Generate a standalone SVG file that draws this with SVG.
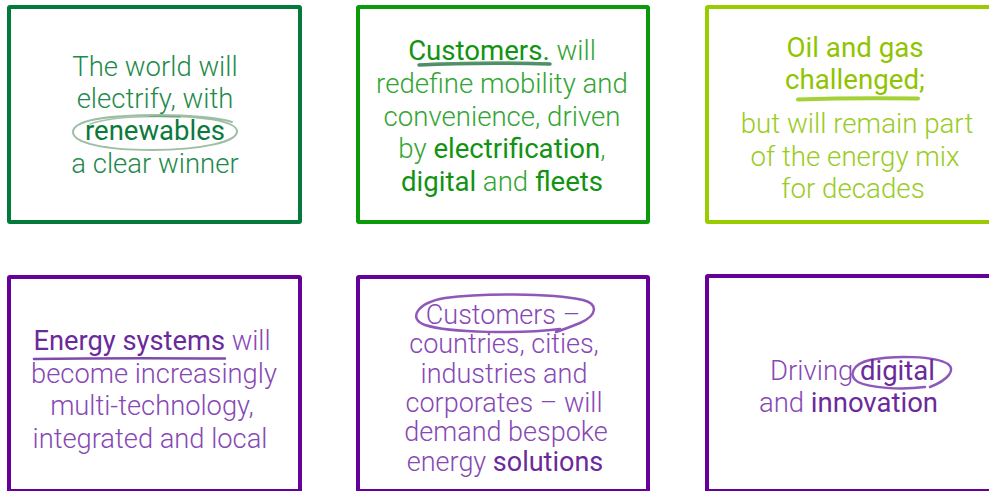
<svg xmlns="http://www.w3.org/2000/svg" width="989" height="491" viewBox="0 0 989 491">
<style>
.box{fill:#ffffff;stroke-width:4;}
.t{font-family:Roboto,"Liberation Sans",Arial,sans-serif;font-weight:300;text-anchor:middle;}
.b{font-weight:400;}
.g1{fill:#1f8a4c;} .g1 .b{fill:#0b7a3b;}
.g2{fill:#33a533;} .g2 .b{fill:#129312;}
.g3{fill:#99cc22;} .g3 .b{fill:#90c400;}
.p{fill:#8748b5;} .p .b{fill:#6a2a9b;}
.brush{fill:none;stroke-linecap:round;stroke-linejoin:round;}
</style>
<rect width="989" height="491" fill="#ffffff"/>

<g id="node-electrify">
  <rect class="box" x="9" y="7" width="291" height="215" rx="1" stroke="#037a3c"/>
  <path class="brush" d="M150,116 C200,115 236,121 237,131 C238,142 200,150 152,150 C105,150 73,143 73,132 C73,121 105,115 160,115 C190,115 220,118 232,122" stroke="#7aa886" stroke-width="2" opacity="0.75"/>
  <path class="brush" d="M90,124 C110,117 150,116 180,117" stroke="#4f8a5f" stroke-width="1.5" opacity="0.5"/>
  <g class="t g1" font-size="27.5">
    <text x="155" y="75.5">The world will</text>
    <text x="155" y="107.5">electrify, with</text>
    <text x="155" y="140" class="b">renewables</text>
    <text x="155" y="173">a clear winner</text>
  </g>
</g>

<g id="node-customers-mobility">
  <rect class="box" x="358" y="7" width="290" height="215" rx="1" stroke="#0a9a0a"/>
  <path class="brush" d="M419,65 C460,63 510,63 550,64" stroke="#2e7a4a" stroke-width="3.5" opacity="0.85"/>
  <path class="brush" d="M430,63.5 C470,62 515,62 545,63" stroke="#5b9a6e" stroke-width="1.5" opacity="0.6"/>
  <g class="t g2" font-size="27.6">
    <text x="502" y="59.5"><tspan class="b">Customers.</tspan> will</text>
    <text x="502" y="93">redefine mobility and</text>
    <text x="502" y="125.5">convenience, driven</text>
    <text x="502" y="158">by <tspan class="b">electrification</tspan>,</text>
    <text x="502" y="190.5"><tspan class="b">digital</tspan> and <tspan class="b">fleets</tspan></text>
  </g>
</g>

<g id="node-oil-gas">
  <rect class="box" x="707" y="7" width="292" height="215" rx="1" stroke="#99cc00"/>
  <path class="brush" d="M798,99.5 C840,98 880,98 918,98.5" stroke="#99cc22" stroke-width="4" opacity="0.9"/>
  <g class="t g3" font-size="27.7">
    <text x="855" y="56.5" class="b">Oil and gas</text>
    <text x="855" y="88.5" class="b">challenged;</text>
    <text x="857" y="133">but will remain part</text>
    <text x="855" y="165.5">of the energy mix</text>
    <text x="853" y="197.5">for decades</text>
  </g>
</g>

<g id="node-energy-systems">
  <rect class="box" x="9" y="277" width="291" height="214" rx="1" stroke="#650099"/>
  <path class="brush" d="M34,359 C90,358 160,358 225,358.5" stroke="#6a2a9b" stroke-width="2.5" opacity="0.85"/>
  <g class="t p" font-size="27.3">
    <text x="152" y="349.5"><tspan class="b">Energy systems</tspan> will</text>
    <text x="154" y="382.5">become increasingly</text>
    <text x="152" y="415">multi-technology,</text>
    <text x="150" y="447.5">integrated and local</text>
  </g>
</g>

<g id="node-customers-solutions">
  <rect class="box" x="358" y="277" width="290" height="214" rx="1" stroke="#650099"/>
  <path class="brush" d="M560,329 C520,334 450,333 425,325 C408,319 416,303 445,298 C480,293 550,293 583,300 C598,304 598,315 580,323 C570,327 562,330 556,332" stroke="#7a3aad" stroke-width="2.5" opacity="0.85"/>
  <g class="t p" font-size="27">
    <text x="503" y="323.5">Customers –</text>
    <text x="504" y="353">countries, cities,</text>
    <text x="504" y="382.5">industries and</text>
    <text x="504" y="412">corporates – will</text>
    <text x="506" y="441">demand bespoke</text>
    <text x="505" y="470.5">energy <tspan class="b">solutions</tspan></text>
  </g>
</g>

<g id="node-digital">
  <rect class="box" x="707" y="276" width="292" height="215" rx="1" stroke="#650099"/>
  <path class="brush" d="M925,387 C900,390 870,388 858,382 C848,376 852,364 870,360 C895,355 935,356 948,364 C956,370 948,380 930,387" stroke="#7a3aad" stroke-width="2.5" opacity="0.85"/>
  <g class="t p" font-size="27.5">
    <text x="852.5" y="380">Driving <tspan class="b">digital</tspan></text>
    <text x="848.5" y="412">and <tspan class="b">innovation</tspan></text>
  </g>
</g>
</svg>
